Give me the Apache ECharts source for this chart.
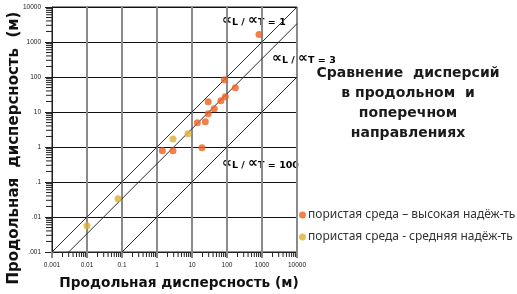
<!DOCTYPE html>
<html><head><meta charset="utf-8">
<script src="https://cdn.jsdelivr.net/npm/echarts@6/dist/echarts.min.js"></script>
<style>html,body{margin:0;padding:0;background:#fff}#c{width:517px;height:294px}</style>
</head><body><div id="c"></div>
<script>
// Data
var xTickLabels = ['0.001','0.01','0.1','1','10','100','1000','10000'];
var yTickLabels = ['.001','.01','.1','1','10','100','1000','10000'];
var highX = [820, 84, 173, 29, 67, 89, 43, 29, 14.2, 24, 19.3, 1.42, 2.86];
var highY = [1650, 84, 49.5, 19.7, 21, 27.4, 12.4, 8.9, 4.9, 5.3, 0.95, 0.78, 0.78];
var midX = [2.86, 7.7, 0.077, 0.01];
var midY = [1.69, 2.4, 0.033, 0.0056];
var ratios = [1, 3, 100];
var axisMin = 0.001, axisMax = 10000;
var decadeStarts = [0.001, 0.01, 0.1, 1, 10, 100, 1000];
var minorMultipliers = [2, 3, 4, 5, 6, 7, 8, 9];
var seriesNames = ['пористая среда – высокая надёж-ть', 'пористая среда - средняя надёж-ть'];

function zip(a, b){ return a.map(function(v,i){ return [v, b[i]]; }); }
function idx(v){ return Math.round(Math.log10(v)) + 3; }
var minorTickValues = [];
decadeStarts.forEach(function(d){ minorMultipliers.forEach(function(m){ minorTickValues.push(d*m); }); });

var chart = echarts.init(document.getElementById('c'), null, {renderer:'canvas'});
var lineSeries = ratios.map(function(r){
  return {
    type:'line', silent:true, symbol:'none', z:3,
    lineStyle:{color:'#2a2a2a', width:1},
    data:[[axisMin*r, axisMin],[axisMax, axisMax/r]]
  };
});
var subRich = {
  a:{fontSize:14, fontWeight:'bold', color:'#111', fontFamily:'DejaVu Sans'},
  s:{fontSize:9.5, fontWeight:'bold', color:'#111', fontFamily:'DejaVu Sans', padding:[6,0,0,0]},
  t:{fontSize:9.5, fontWeight:'bold', color:'#111', fontFamily:'DejaVu Sans', padding:[6,0,0,0]}
};
function ratioLabel(r){ return '{a|∝}{s|L}{t| / }{a|∝}{s|T = ' + r + '}'; }

// minor ticks drawn through the axes' own scales
function tickSeries(dir){
  return {
    type:'custom', silent:true, clip:false, z:6,
    data: minorTickValues.map(function(v){ return dir === 'x' ? [v, axisMin] : [axisMin, v]; }),
    renderItem:function(params, api){
      var p = api.coord([api.value(0), api.value(1)]);
      var shape = dir === 'x'
        ? {x1:p[0], y1:p[1], x2:p[0], y2:p[1]+5}
        : {x1:p[0]-6, y1:p[1], x2:p[0], y2:p[1]};
      return {type:'line', shape:shape, style:{stroke:'#222', lineWidth:1}};
    }
  };
}

chart.setOption({
  animation:false,
  backgroundColor:'#fff',
  grid:{left:52, right:220, top:7, bottom:42, show:true, borderColor:'#222', borderWidth:1, containLabel:false},
  xAxis:{
    type:'log', logBase:10, min:axisMin, max:axisMax,
    axisLine:{lineStyle:{color:'#222', width:1}},
    axisTick:{show:true, length:6, lineStyle:{color:'#888', width:2}},
    axisLabel:{fontSize:6.5, color:'#222', fontFamily:'Liberation Sans', margin:10,
      formatter:function(v){ return xTickLabels[idx(v)]; }},
    splitLine:{show:true, lineStyle:{color:'#8a8a8a', width:2}}
  },
  yAxis:{
    type:'log', logBase:10, min:axisMin, max:axisMax,
    axisLine:{lineStyle:{color:'#222', width:1}},
    axisTick:{show:true, length:7, lineStyle:{color:'#222', width:1}},
    axisLabel:{fontSize:6.5, color:'#222', fontFamily:'Liberation Sans', margin:11,
      formatter:function(v){ return yTickLabels[idx(v)]; }},
    splitLine:{show:true, lineStyle:{color:'#111', width:1}}
  },
  legend:{
    orient:'vertical', left:294, top:204, itemGap:10, itemWidth:7, itemHeight:7,
    icon:'circle', textStyle:{fontSize:12, color:'#333', fontFamily:'Noto Sans', padding:[0,0,0,-3]},
    data:seriesNames
  },
  graphic:[
    {type:'text', x:408, y:64, style:{
      text:'Сравнение  дисперсий\nв продольном  и\nпоперечном\nнаправлениях',
      align:'center', verticalAlign:'top', font:'bold 14px "DejaVu Sans"', fill:'#1a1a1a', lineHeight:19.7}},
    {type:'text', x:179, y:283, style:{text:'Продольная дисперсность (м)',
      align:'center', verticalAlign:'middle', font:'bold 13.7px "DejaVu Sans"', fill:'#111'}},
    {type:'text', x:14, y:148, rotation:Math.PI/2, style:{text:'Продольная  дисперсность  (м)',
      align:'center', verticalAlign:'middle', font:'bold 15px "DejaVu Sans"', fill:'#111'}},
    {type:'text', x:222, y:12, style:{text:ratioLabel(1), rich:subRich, backgroundColor:'#fff'}},
    {type:'text', x:272, y:50, style:{text:ratioLabel(3), rich:subRich, backgroundColor:'#fff'}},
    {type:'text', x:222, y:155, style:{text:ratioLabel(100), rich:subRich, backgroundColor:'#fff'}}
  ],
  series: lineSeries.concat([tickSeries('x'), tickSeries('y'),
    {type:'scatter', name:seriesNames[0], symbolSize:7, z:5,
      itemStyle:{color:'#F0601E'}, data:zip(highX, highY)},
    {type:'scatter', name:seriesNames[1], symbolSize:7, z:5,
      itemStyle:{color:'#DDB033'}, data:zip(midX, midY)}
  ])
});
</script></body></html>
